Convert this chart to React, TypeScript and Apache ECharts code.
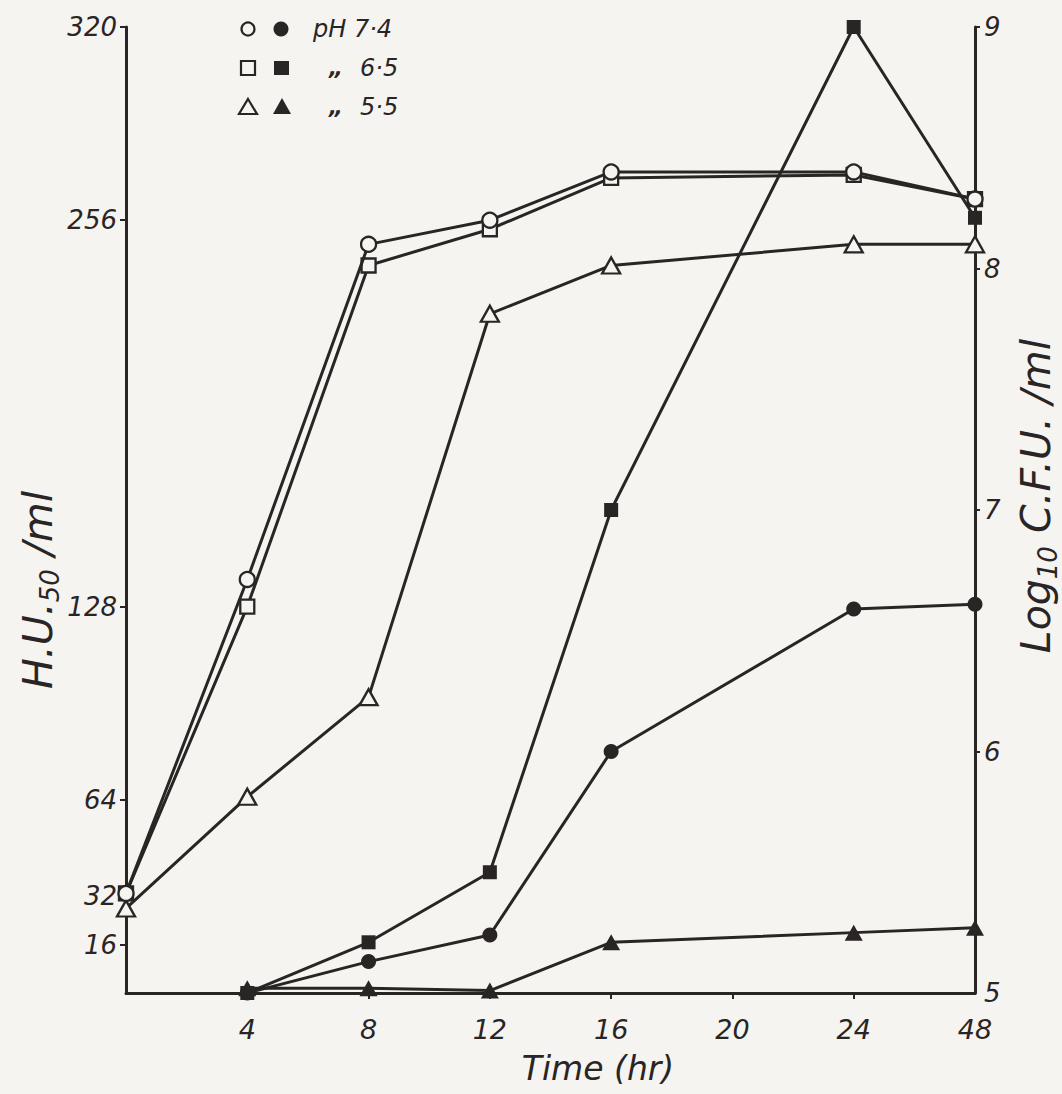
import React, { useEffect, useRef } from "react";
import * as echarts from "echarts";

// ---- data ----
const hours = [0, 4, 8, 12, 16, 24, 48];
const timeTickValues = [4, 8, 12, 16, 20, 24, 48];
const huTicks = [16, 32, 64, 128, 256, 320];
const cfuTicks = [5, 6, 7, 8, 9];

// H.U.50/ml (left axis, open symbols)
const huPH74 = [33, 137, 248, 256, 272, 272, 263];
const huPH65 = [33, 128, 241, 253, 270, 271, 263];
const huPH55 = [28, 65, 98, 225, 241, 248, 248];
// Log10 C.F.U./ml (right axis, filled symbols)
const cfuPH74 = [null, 5.0, 5.13, 5.24, 6.0, 6.59, 6.61];
const cfuPH65 = [null, 5.0, 5.21, 5.5, 7.0, 9.0, 8.21];
const cfuPH55 = [null, 5.02, 5.02, 5.01, 5.21, 5.25, 5.27];

const legendRows = [
  { prefix: "pH", label: "7·4" },
  { prefix: "„", label: "6·5" },
  { prefix: "„", label: "5·5" },
];

// ---- style ----
const INK = "#2a2525";
const PAPER = "#f5f4f0";
const FONT = "'DejaVu Sans', sans-serif";

// the time axis is broken: 48 h is drawn one step after 24 h
const axisPos = (h: number) => (h === 48 ? 28 : h);
const axisLabelOf = (v: number) => (v === 28 ? "48" : String(v));

function pts(vals: (number | null)[]) {
  const out: number[][] = [];
  hours.forEach((h, i) => {
    const v = vals[i];
    if (v !== null && v !== undefined) out.push([axisPos(h), v]);
  });
  return out;
}

function makeSeries(
  name: string,
  vals: (number | null)[],
  yIndex: number,
  symbol: string,
  size: number | number[],
  filled: boolean,
  z: number
) {
  return {
    name,
    type: "line",
    yAxisIndex: yIndex,
    data: pts(vals),
    symbol,
    symbolSize: size,
    showSymbol: true,
    z,
    lineStyle: { color: INK, width: 3 },
    itemStyle: {
      color: filled ? INK : PAPER,
      borderColor: INK,
      borderWidth: filled ? 0 : 2.3,
    },
    emphasis: { disabled: true },
    silent: true,
  };
}

export default function App() {
  const ref = useRef<HTMLDivElement>(null);

  useEffect(() => {
    if (!ref.current) return;
    const chart = echarts.init(ref.current, undefined, { renderer: "svg" });

    const legendX0 = 248;
    const legendX1 = 281;
    const legendY = [29, 68, 107];

    const legendGraphics: any[] = [];
    legendGraphics.push({
      type: "circle",
      shape: { cx: legendX0, cy: legendY[0], r: 6.5 },
      style: { fill: PAPER, stroke: INK, lineWidth: 2.2 },
    });
    legendGraphics.push({
      type: "circle",
      shape: { cx: legendX1, cy: legendY[0], r: 7.5 },
      style: { fill: INK },
    });
    legendGraphics.push({
      type: "rect",
      shape: { x: legendX0 - 7, y: legendY[1] - 7, width: 14, height: 14 },
      style: { fill: PAPER, stroke: INK, lineWidth: 2.2 },
    });
    legendGraphics.push({
      type: "rect",
      shape: { x: legendX1 - 7, y: legendY[1] - 7, width: 15, height: 14 },
      style: { fill: INK },
    });
    legendGraphics.push({
      type: "polygon",
      shape: {
        points: [
          [legendX0, legendY[2] - 8],
          [legendX0 + 9, legendY[2] + 7],
          [legendX0 - 9, legendY[2] + 7],
        ],
      },
      style: { fill: PAPER, stroke: INK, lineWidth: 2.2 },
    });
    legendGraphics.push({
      type: "polygon",
      shape: {
        points: [
          [legendX1 + 1, legendY[2] - 9],
          [legendX1 + 10, legendY[2] + 7],
          [legendX1 - 8, legendY[2] + 7],
        ],
      },
      style: { fill: INK },
    });
    legendRows.forEach((r, i) => {
      if (r.prefix === "pH") {
        legendGraphics.push({
          type: "text",
          x: 313,
          y: legendY[i],
          style: {
            text: "pH " + r.label,
            font: `italic 24px ${FONT}`,
            fill: INK,
            textVerticalAlign: "middle",
            textAlign: "left",
          },
        });
      } else {
        legendGraphics.push({
          type: "text",
          x: 329,
          y: legendY[i] - 1,
          style: {
            text: r.prefix,
            font: `italic bold 22px ${FONT}`,
            fill: INK,
            textVerticalAlign: "middle",
            textAlign: "left",
          },
        });
        legendGraphics.push({
          type: "text",
          x: 360,
          y: legendY[i],
          style: {
            text: r.label,
            font: `italic 24px ${FONT}`,
            fill: INK,
            textVerticalAlign: "middle",
            textAlign: "left",
          },
        });
      }
    });

    const richTitle = {
      m: { font: `italic 41px ${FONT}`, fill: INK, lineHeight: 50, verticalAlign: "middle" },
      s: { font: `italic 26px ${FONT}`, fill: INK, lineHeight: 50, verticalAlign: "bottom" },
    };

    const titleGraphics = [
      {
        type: "text",
        x: 38,
        y: 590,
        rotation: Math.PI / 2,
        style: {
          text: "{m|H.U.}{s|50}{m| /ml}",
          fill: INK,
          textAlign: "center",
          textVerticalAlign: "middle",
          rich: richTitle,
        },
      },
      {
        type: "text",
        x: 1036,
        y: 496,
        rotation: Math.PI / 2,
        style: {
          text: "{m|Log}{s|10}{m| C.F.U. /ml}",
          fill: INK,
          textAlign: "center",
          textVerticalAlign: "middle",
          rich: richTitle,
        },
      },
      {
        type: "text",
        x: 598,
        y: 1068,
        style: {
          text: "Time (hr)",
          font: `italic 33px ${FONT}`,
          fill: INK,
          textAlign: "center",
          textVerticalAlign: "middle",
        },
      },
    ];

    const option: any = {
      animation: false,
      backgroundColor: PAPER,
      grid: { left: 126, right: 87, top: 27, bottom: 101, containLabel: false },
      xAxis: {
        type: "value",
        min: 0,
        max: 28,
        interval: 4,
        splitLine: { show: false },
        axisLine: { show: true, lineStyle: { color: INK, width: 3 } },
        axisTick: {
          show: true,
          length: 6,
          lineStyle: { color: INK, width: 2 },
          customValues: timeTickValues.slice(0, 6).map(axisPos),
        },
        axisLabel: {
          customValues: timeTickValues.map(axisPos),
          formatter: (v: number) => axisLabelOf(v),
          color: INK,
          fontSize: 27,
          fontStyle: "italic",
          fontFamily: FONT,
          margin: 23,
        },
      },
      yAxis: [
        {
          type: "value",
          position: "left",
          min: 0,
          max: 320,
          splitLine: { show: false },
          axisLine: { show: true, lineStyle: { color: INK, width: 3 } },
          axisTick: {
            show: true,
            length: 6,
            lineStyle: { color: INK, width: 2 },
            customValues: huTicks,
          },
          axisLabel: {
            customValues: huTicks,
            color: INK,
            fontSize: 26,
            fontStyle: "italic",
            fontFamily: FONT,
            margin: 9,
          },
        },
        {
          type: "value",
          position: "right",
          min: 5,
          max: 9,
          interval: 1,
          splitLine: { show: false },
          axisLine: { show: true, lineStyle: { color: INK, width: 3 } },
          axisTick: {
            show: true,
            length: 5,
            lineStyle: { color: INK, width: 2 },
            customValues: cfuTicks.slice(1),
          },
          axisLabel: {
            customValues: cfuTicks,
            color: INK,
            fontSize: 26,
            fontStyle: "italic",
            fontFamily: FONT,
            margin: 9,
          },
        },
      ],
      series: [
        makeSeries("HU pH 5.5", huPH55, 0, "triangle", [18, 16], false, 3),
        makeSeries("HU pH 6.5", huPH65, 0, "rect", 14, false, 4),
        makeSeries("HU pH 7.4", huPH74, 0, "circle", 15, false, 5),
        makeSeries("CFU pH 5.5", cfuPH55, 1, "triangle", [18, 16], true, 6),
        makeSeries("CFU pH 7.4", cfuPH74, 1, "circle", 15, true, 7),
        makeSeries("CFU pH 6.5", cfuPH65, 1, "rect", 14, true, 8),
      ],
      graphic: [...legendGraphics, ...titleGraphics],
    };

    chart.setOption(option);
    return () => chart.dispose();
  }, []);

  return (
    <div
      ref={ref}
      style={{ position: "absolute", left: 0, top: 0, width: 1062, height: 1094 }}
    />
  );
}
